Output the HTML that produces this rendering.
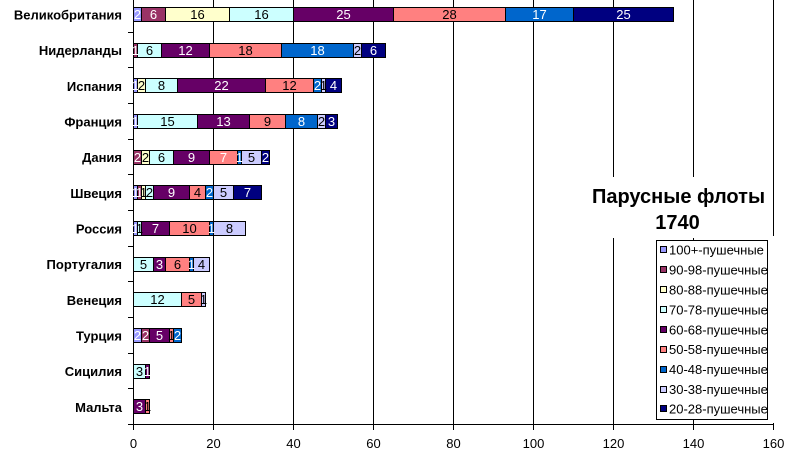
<!DOCTYPE html>
<html><head><meta charset="utf-8"><style>
html,body{margin:0;padding:0;background:#fff;}
svg{display:block;}
text{font-family:"Liberation Sans",Arial,sans-serif;}
.cat{font-size:13px;font-weight:bold;text-anchor:end;fill:#000;}
.v{font-size:13px;text-anchor:middle;}
.w{fill:#fff;}
.k{fill:#000;}
.tick{font-size:13px;text-anchor:middle;fill:#000;}
.lg{font-size:13px;fill:#000;}
</style></head><body>
<svg width="790" height="453" viewBox="0 0 790 453" xmlns="http://www.w3.org/2000/svg">
<rect x="0" y="0" width="790" height="453" fill="#fff"/>
<!-- gridlines -->
<g stroke="#000" stroke-width="1">
<line x1="213.5" y1="0" x2="213.5" y2="425"/>
<line x1="293.5" y1="0" x2="293.5" y2="425"/>
<line x1="373.5" y1="0" x2="373.5" y2="425"/>
<line x1="453.5" y1="0" x2="453.5" y2="425"/>
<line x1="533.5" y1="0" x2="533.5" y2="425"/>
<line x1="613.5" y1="0" x2="613.5" y2="425"/>
<line x1="693.5" y1="0" x2="693.5" y2="425"/>
<line x1="773.5" y1="0" x2="773.5" y2="425"/>
</g>
<!-- axes -->
<g stroke="#000" stroke-width="1">
<line x1="133.5" y1="0" x2="133.5" y2="425"/>
<line x1="133" y1="424.5" x2="774" y2="424.5"/>
<line x1="128" y1="32.5" x2="133" y2="32.5"/>
<line x1="128" y1="67.5" x2="133" y2="67.5"/>
<line x1="128" y1="103.5" x2="133" y2="103.5"/>
<line x1="128" y1="139.5" x2="133" y2="139.5"/>
<line x1="128" y1="174.5" x2="133" y2="174.5"/>
<line x1="128" y1="210.5" x2="133" y2="210.5"/>
<line x1="128" y1="246.5" x2="133" y2="246.5"/>
<line x1="128" y1="281.5" x2="133" y2="281.5"/>
<line x1="128" y1="317.5" x2="133" y2="317.5"/>
<line x1="128" y1="353.5" x2="133" y2="353.5"/>
<line x1="128" y1="388.5" x2="133" y2="388.5"/>
<line x1="128" y1="424.5" x2="133" y2="424.5"/>
<line x1="133.5" y1="425" x2="133.5" y2="430"/>
<line x1="213.5" y1="425" x2="213.5" y2="430"/>
<line x1="293.5" y1="425" x2="293.5" y2="430"/>
<line x1="373.5" y1="425" x2="373.5" y2="430"/>
<line x1="453.5" y1="425" x2="453.5" y2="430"/>
<line x1="533.5" y1="425" x2="533.5" y2="430"/>
<line x1="613.5" y1="425" x2="613.5" y2="430"/>
<line x1="693.5" y1="425" x2="693.5" y2="430"/>
<line x1="773.5" y1="425" x2="773.5" y2="430"/>
</g>
<!-- x tick labels -->
<text class="tick" x="133.5" y="448">0</text>
<text class="tick" x="213.5" y="448">20</text>
<text class="tick" x="293.5" y="448">40</text>
<text class="tick" x="373.5" y="448">60</text>
<text class="tick" x="453.5" y="448">80</text>
<text class="tick" x="533.5" y="448">100</text>
<text class="tick" x="613.5" y="448">120</text>
<text class="tick" x="693.5" y="448">140</text>
<text class="tick" x="773.5" y="448">160</text>
<!-- category labels -->
<text class="cat" x="122" y="19.5">Великобритания</text>
<text class="cat" x="122" y="55">Нидерланды</text>
<text class="cat" x="122" y="91">Испания</text>
<text class="cat" x="122" y="126.5">Франция</text>
<text class="cat" x="122" y="162">Дания</text>
<text class="cat" x="122" y="198">Швеция</text>
<text class="cat" x="122" y="233.5">Россия</text>
<text class="cat" x="122" y="269">Португалия</text>
<text class="cat" x="122" y="305">Венеция</text>
<text class="cat" x="122" y="340.5">Турция</text>
<text class="cat" x="122" y="376">Сицилия</text>
<text class="cat" x="122" y="412">Мальта</text>

<!-- bars -->
<g stroke="#000" stroke-width="1">
<!-- GB y=7.5 -->
<rect x="133.5" y="7.5" width="8" height="14" fill="#9999FF"/>
<rect x="141.5" y="7.5" width="24" height="14" fill="#993366"/>
<rect x="165.5" y="7.5" width="64" height="14" fill="#FFFFCC"/>
<rect x="229.5" y="7.5" width="64" height="14" fill="#CCFFFF"/>
<rect x="293.5" y="7.5" width="100" height="14" fill="#660066"/>
<rect x="393.5" y="7.5" width="112" height="14" fill="#FF8080"/>
<rect x="505.5" y="7.5" width="68" height="14" fill="#0066CC"/>
<rect x="573.5" y="7.5" width="100" height="14" fill="#000080"/>
<!-- NL y=43.5 -->
<rect x="133.5" y="43.5" width="4" height="14" fill="#993366"/>
<rect x="137.5" y="43.5" width="24" height="14" fill="#CCFFFF"/>
<rect x="161.5" y="43.5" width="48" height="14" fill="#660066"/>
<rect x="209.5" y="43.5" width="72" height="14" fill="#FF8080"/>
<rect x="281.5" y="43.5" width="72" height="14" fill="#0066CC"/>
<rect x="353.5" y="43.5" width="8" height="14" fill="#CCCCFF"/>
<rect x="361.5" y="43.5" width="24" height="14" fill="#000080"/>
<!-- ES y=78.5 -->
<rect x="133.5" y="78.5" width="4" height="14" fill="#9999FF"/>
<rect x="137.5" y="78.5" width="8" height="14" fill="#FFFFCC"/>
<rect x="145.5" y="78.5" width="32" height="14" fill="#CCFFFF"/>
<rect x="177.5" y="78.5" width="88" height="14" fill="#660066"/>
<rect x="265.5" y="78.5" width="48" height="14" fill="#FF8080"/>
<rect x="313.5" y="78.5" width="8" height="14" fill="#0066CC"/>
<rect x="321.5" y="78.5" width="4" height="14" fill="#CCCCFF"/>
<rect x="325.5" y="78.5" width="16" height="14" fill="#000080"/>
<!-- FR y=114.5 -->
<rect x="133.5" y="114.5" width="4" height="14" fill="#9999FF"/>
<rect x="137.5" y="114.5" width="60" height="14" fill="#CCFFFF"/>
<rect x="197.5" y="114.5" width="52" height="14" fill="#660066"/>
<rect x="249.5" y="114.5" width="36" height="14" fill="#FF8080"/>
<rect x="285.5" y="114.5" width="32" height="14" fill="#0066CC"/>
<rect x="317.5" y="114.5" width="8" height="14" fill="#CCCCFF"/>
<rect x="325.5" y="114.5" width="12" height="14" fill="#000080"/>
<!-- DK y=150.5 -->
<rect x="133.5" y="150.5" width="8" height="14" fill="#993366"/>
<rect x="141.5" y="150.5" width="8" height="14" fill="#FFFFCC"/>
<rect x="149.5" y="150.5" width="24" height="14" fill="#CCFFFF"/>
<rect x="173.5" y="150.5" width="36" height="14" fill="#660066"/>
<rect x="209.5" y="150.5" width="28" height="14" fill="#FF8080"/>
<rect x="237.5" y="150.5" width="4" height="14" fill="#0066CC"/>
<rect x="241.5" y="150.5" width="20" height="14" fill="#CCCCFF"/>
<rect x="261.5" y="150.5" width="8" height="14" fill="#000080"/>
<!-- SE y=185.5 -->
<rect x="133.5" y="185.5" width="4" height="14" fill="#9999FF"/>
<rect x="137.5" y="185.5" width="4" height="14" fill="#993366"/>
<rect x="141.5" y="185.5" width="4" height="14" fill="#FFFFCC"/>
<rect x="145.5" y="185.5" width="8" height="14" fill="#CCFFFF"/>
<rect x="153.5" y="185.5" width="36" height="14" fill="#660066"/>
<rect x="189.5" y="185.5" width="16" height="14" fill="#FF8080"/>
<rect x="205.5" y="185.5" width="8" height="14" fill="#0066CC"/>
<rect x="213.5" y="185.5" width="20" height="14" fill="#CCCCFF"/>
<rect x="233.5" y="185.5" width="28" height="14" fill="#000080"/>
<!-- RU y=221.5 -->
<rect x="133.5" y="221.5" width="4" height="14" fill="#9999FF"/>
<rect x="137.5" y="221.5" width="4" height="14" fill="#CCFFFF"/>
<rect x="141.5" y="221.5" width="28" height="14" fill="#660066"/>
<rect x="169.5" y="221.5" width="40" height="14" fill="#FF8080"/>
<rect x="209.5" y="221.5" width="4" height="14" fill="#0066CC"/>
<rect x="213.5" y="221.5" width="32" height="14" fill="#CCCCFF"/>
<!-- PT y=257.5 -->
<rect x="133.5" y="257.5" width="20" height="14" fill="#CCFFFF"/>
<rect x="153.5" y="257.5" width="12" height="14" fill="#660066"/>
<rect x="165.5" y="257.5" width="24" height="14" fill="#FF8080"/>
<rect x="189.5" y="257.5" width="4" height="14" fill="#0066CC"/>
<rect x="193.5" y="257.5" width="16" height="14" fill="#CCCCFF"/>
<!-- VE y=292.5 -->
<rect x="133.5" y="292.5" width="48" height="14" fill="#CCFFFF"/>
<rect x="181.5" y="292.5" width="20" height="14" fill="#FF8080"/>
<rect x="201.5" y="292.5" width="4" height="14" fill="#CCCCFF"/>
<!-- TR y=328.5 -->
<rect x="133.5" y="328.5" width="8" height="14" fill="#9999FF"/>
<rect x="141.5" y="328.5" width="8" height="14" fill="#993366"/>
<rect x="149.5" y="328.5" width="20" height="14" fill="#660066"/>
<rect x="169.5" y="328.5" width="4" height="14" fill="#FF8080"/>
<rect x="173.5" y="328.5" width="8" height="14" fill="#0066CC"/>
<!-- SI y=364.5 -->
<rect x="133.5" y="364.5" width="12" height="14" fill="#CCFFFF"/>
<rect x="145.5" y="364.5" width="4" height="14" fill="#660066"/>
<!-- MT y=399.5 -->
<rect x="133.5" y="399.5" width="12" height="14" fill="#660066"/>
<rect x="145.5" y="399.5" width="4" height="14" fill="#FF8080"/>
</g>

<!-- value labels -->
<g class="v">
<!-- GB baseline 19 -->
<text class="w" x="137.5" y="19">2</text>
<text class="w" x="153.5" y="19">6</text>
<text class="k" x="197.5" y="19">16</text>
<text class="k" x="261.5" y="19">16</text>
<text class="w" x="343.5" y="19">25</text>
<text class="k" x="449.5" y="19">28</text>
<text class="w" x="539.5" y="19">17</text>
<text class="w" x="623.5" y="19">25</text>
<!-- NL baseline 55 -->
<text class="w" x="135.5" y="55">1</text>
<text class="k" x="149.5" y="55">6</text>
<text class="w" x="185.5" y="55">12</text>
<text class="k" x="245.5" y="55">18</text>
<text class="w" x="317.5" y="55">18</text>
<text class="k" x="357.5" y="55">2</text>
<text class="w" x="373.5" y="55">6</text>
<!-- ES baseline 90 -->
<text class="w" x="135.5" y="90">1</text>
<text class="k" x="141.5" y="90">2</text>
<text class="k" x="161.5" y="90">8</text>
<text class="w" x="221.5" y="90">22</text>
<text class="k" x="289.5" y="90">12</text>
<text class="w" x="317.5" y="90">2</text>
<text class="k" x="323.5" y="90">1</text>
<text class="w" x="333.5" y="90">4</text>
<!-- FR baseline 126 -->
<text class="w" x="135.5" y="126">1</text>
<text class="k" x="167.5" y="126">15</text>
<text class="w" x="223.5" y="126">13</text>
<text class="k" x="267.5" y="126">9</text>
<text class="w" x="301.5" y="126">8</text>
<text class="k" x="321.5" y="126">2</text>
<text class="w" x="331.5" y="126">3</text>
<!-- DK baseline 162 -->
<text class="w" x="137.5" y="162">2</text>
<text class="k" x="145.5" y="162">2</text>
<text class="k" x="161.5" y="162">6</text>
<text class="w" x="191.5" y="162">9</text>
<text class="w" x="223.5" y="162">7</text>
<text class="w" x="239.5" y="162">1</text>
<text class="k" x="251.5" y="162">5</text>
<text class="w" x="265.5" y="162">2</text>
<!-- SE baseline 197 -->
<text class="w" x="135.5" y="197">1</text>
<text class="w" x="139.5" y="197">1</text>
<text class="k" x="143.5" y="197">1</text>
<text class="k" x="149.5" y="197">2</text>
<text class="w" x="171.5" y="197">9</text>
<text class="k" x="197.5" y="197">4</text>
<text class="w" x="209.5" y="197">2</text>
<text class="k" x="223.5" y="197">5</text>
<text class="w" x="247.5" y="197">7</text>
<!-- RU baseline 233 -->
<text class="w" x="135.5" y="233">1</text>
<text class="k" x="139.5" y="233">1</text>
<text class="w" x="155.5" y="233">7</text>
<text class="k" x="189.5" y="233">10</text>
<text class="w" x="211.5" y="233">1</text>
<text class="k" x="229.5" y="233">8</text>
<!-- PT baseline 269 -->
<text class="k" x="143.5" y="269">5</text>
<text class="w" x="159.5" y="269">3</text>
<text class="k" x="177.5" y="269">6</text>
<text class="w" x="191.5" y="269">1</text>
<text class="k" x="201.5" y="269">4</text>
<!-- VE baseline 304 -->
<text class="k" x="157.5" y="304">12</text>
<text class="k" x="191.5" y="304">5</text>
<text class="k" x="203.5" y="304">1</text>
<!-- TR baseline 340 -->
<text class="w" x="137.5" y="340">2</text>
<text class="w" x="145.5" y="340">2</text>
<text class="w" x="159.5" y="340">5</text>
<text class="k" x="171.5" y="340">1</text>
<text class="w" x="177.5" y="340">2</text>
<!-- SI baseline 376 -->
<text class="k" x="139.5" y="376">3</text>
<text class="w" x="147.5" y="376">1</text>
<!-- MT baseline 411 -->
<text class="w" x="139.5" y="411">3</text>
<text class="k" x="147.5" y="411">1</text>
</g>

<!-- title -->
<rect x="588" y="177" width="182" height="61" fill="#fff"/>
<text x="678.5" y="203" font-size="20" font-weight="bold" text-anchor="middle" fill="#000" style="font-family:'Liberation Sans',Arial,sans-serif">Парусные флоты</text>
<text x="677.5" y="229" font-size="20" font-weight="bold" text-anchor="middle" fill="#000" style="font-family:'Liberation Sans',Arial,sans-serif">1740</text>

<!-- legend -->
<rect x="768" y="236" width="12" height="187" fill="#fff"/>
<defs><clipPath id="lc"><rect x="657" y="241" width="110" height="178"/></clipPath></defs>
<rect x="656.5" y="240.5" width="111" height="179" fill="#fff" stroke="#000" stroke-width="1"/>
<g clip-path="url(#lc)">
<g stroke="#000" stroke-width="1">
<rect x="660.5" y="246.5" width="6" height="6" fill="#9999FF"/>
<rect x="660.5" y="266.5" width="6" height="6" fill="#993366"/>
<rect x="660.5" y="286.5" width="6" height="6" fill="#FFFFCC"/>
<rect x="660.5" y="306.5" width="6" height="6" fill="#CCFFFF"/>
<rect x="660.5" y="326.5" width="6" height="6" fill="#660066"/>
<rect x="660.5" y="346.5" width="6" height="6" fill="#FF8080"/>
<rect x="660.5" y="366.5" width="6" height="6" fill="#0066CC"/>
<rect x="660.5" y="386.5" width="6" height="6" fill="#CCCCFF"/>
<rect x="660.5" y="405.5" width="6" height="6" fill="#000080"/>
</g>
<text class="lg" x="669" y="254.5">100+-пушечные</text>
<text class="lg" x="669" y="274.5">90-98-пушечные</text>
<text class="lg" x="669" y="294.5">80-88-пушечные</text>
<text class="lg" x="669" y="314.5">70-78-пушечные</text>
<text class="lg" x="669" y="334.5">60-68-пушечные</text>
<text class="lg" x="669" y="354">50-58-пушечные</text>
<text class="lg" x="669" y="374">40-48-пушечные</text>
<text class="lg" x="669" y="394">30-38-пушечные</text>
<text class="lg" x="669" y="413.5">20-28-пушечные</text>
</g>
</svg>
</body></html>
